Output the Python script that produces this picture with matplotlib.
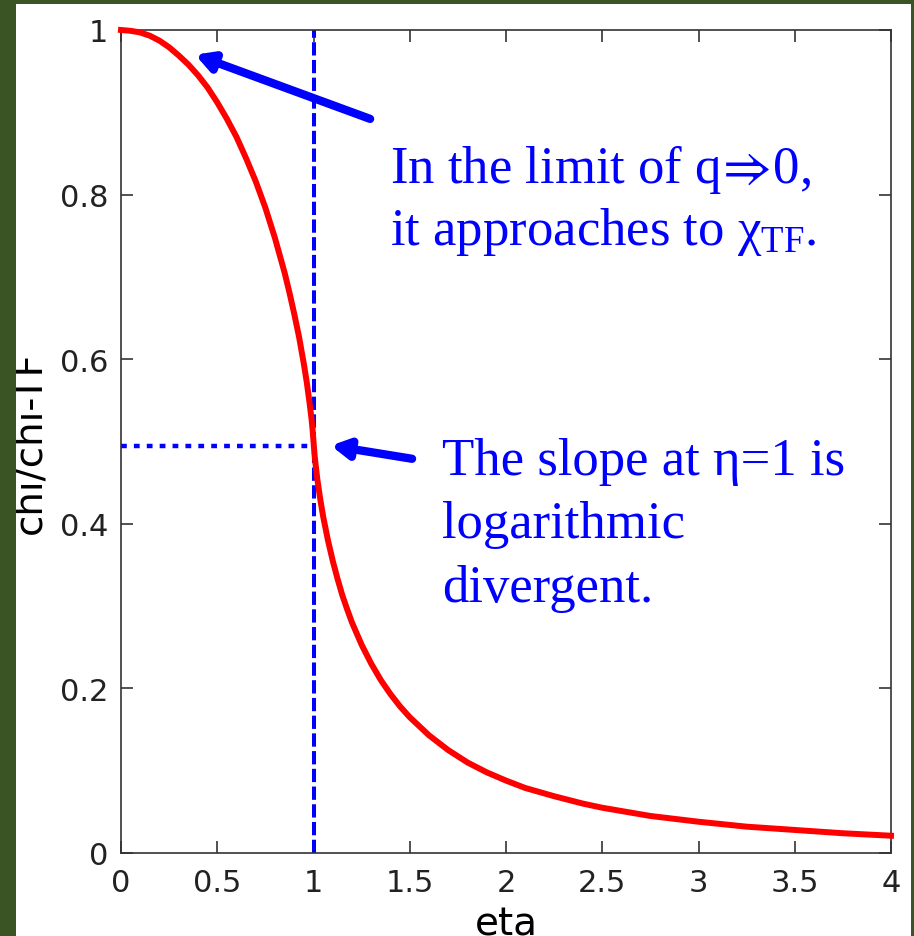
import matplotlib
matplotlib.use("Agg")
import matplotlib.pyplot as plt
from matplotlib.patches import Rectangle

# values
eta = [0.0, 0.05, 0.1, 0.15, 0.2, 0.25, 0.3, 0.35, 0.4, 0.45,
       0.5, 0.55, 0.6, 0.65, 0.7, 0.75, 0.8, 0.85, 0.875, 0.9,
       0.925, 0.95, 0.965, 0.98, 0.99, 0.995, 1.0, 1.005, 1.01, 1.02,
       1.035, 1.05, 1.075, 1.1, 1.125, 1.15, 1.175, 1.2, 1.25, 1.3,
       1.35, 1.4, 1.45, 1.5, 1.6, 1.7, 1.8, 1.9, 2.0, 2.1,
       2.25, 2.4, 2.5, 2.6, 2.75, 3.0, 3.25, 3.5, 3.75, 4.0]
chi = [1.000, 0.999, 0.997, 0.993, 0.987, 0.979, 0.969, 0.958, 0.945, 0.930,
       0.912, 0.892, 0.870, 0.844, 0.816, 0.784, 0.747, 0.705, 0.681, 0.655,
       0.627, 0.594, 0.572, 0.546, 0.527, 0.515, 0.500, 0.485, 0.474, 0.454,
       0.430, 0.409, 0.380, 0.355, 0.333, 0.313, 0.296, 0.280, 0.253, 0.230,
       0.210, 0.193, 0.178, 0.165, 0.143, 0.125, 0.110, 0.098, 0.088, 0.079,
       0.069, 0.060, 0.055, 0.051, 0.045, 0.038, 0.032, 0.028, 0.024, 0.021]

x_ticks = [0, 0.5, 1, 1.5, 2, 2.5, 3, 3.5, 4]
x_ticklabels = ["0", "0.5", "1", "1.5", "2", "2.5", "3", "3.5", "4"]
y_ticks = [0, 0.2, 0.4, 0.6, 0.8, 1]
y_ticklabels = ["0", "0.2", "0.4", "0.6", "0.8", "1"]

eta_mark = 1.0
chi_mark = 0.495

note1 = ["In the limit of q$\\!\\Rightarrow\\!$0,", "it approaches to $\\chi_{\\mathrm{TF}}$."]
note2 = ["The slope at \u03b7=1 is", "logarithmic", "divergent."]

plt.rcParams['mathtext.fontset'] = 'custom'
plt.rcParams['mathtext.rm'] = 'Liberation Serif'
plt.rcParams['mathtext.it'] = 'Liberation Serif'
plt.rcParams['mathtext.fallback'] = 'stix'

W, H = 914, 937
green = '#3a5424'
fig = plt.figure(figsize=(W / 100, H / 100), dpi=100)
fig.patch.set_facecolor(green)
# white slide panel
fig.add_artist(Rectangle((16 / W, 0), (911 - 16) / W, (H - 5) / H,
                         transform=fig.transFigure, facecolor='white',
                         edgecolor='none', zorder=-10))

ax = fig.add_axes([121 / W, (H - 854) / H, 770 / W, 823 / H])
ax.set_xlim(0, 4)
ax.set_ylim(0, 1)

ax.plot(eta, chi, color='red', lw=4.3, solid_joinstyle='round', zorder=3, clip_on=False)
ax.axvline(eta_mark, color='blue', lw=2.9, linestyle=(0, (3.3, 1.1)), zorder=2)
ax.plot([0, eta_mark], [chi_mark, chi_mark], color='blue', lw=3.2,
        linestyle=(0, (1.3, 1.6)), zorder=2)

ax.set_xticks(x_ticks)
ax.set_xticklabels(x_ticklabels)
ax.set_yticks(y_ticks)
ax.set_yticklabels(y_ticklabels)
ax.tick_params(direction='in', length=8.6, width=1.1, top=True, right=True,
               labelsize=22, colors='#222222')
ax.tick_params(axis='x', pad=11)
ax.tick_params(axis='y', pad=9)
for s in ax.spines.values():
    s.set_linewidth(1.2)
    s.set_color('#333333')

ax.set_xlabel('eta', fontsize=28, labelpad=5)
ax.set_ylabel('chi/chi-TF', fontsize=28, labelpad=8.5)

# arrows
arrow = dict(arrowstyle='-|>,head_length=1.0,head_width=0.55', lw=6,
             color='blue', shrinkA=0, shrinkB=0)
ax.annotate('', xy=(0.385, 0.970), xytext=(1.294, 0.892), arrowprops=arrow)
ax.annotate('', xy=(1.09, 0.495), xytext=(1.512, 0.479), arrowprops=arrow)

# notes (positions in pixels -> data)
def px(x, y):
    return (x - 121) / 192.5, (854 - y) / 823

serif = ['Liberation Serif', 'DejaVu Serif']
for line, yb in zip(note1, [183, 245]):
    ax.text(*px(390, yb), line, color='blue', fontsize=38, family=serif,
            va='baseline', ha='left')
for line, yb in zip(note2, [475, 538, 602]):
    ax.text(*px(442, yb), line, color='blue', fontsize=38, family=serif,
            va='baseline', ha='left')

# left green strip covers part of the y label
fig.add_artist(Rectangle((0, 0), 16 / W, 1, transform=fig.transFigure,
                         facecolor=green, edgecolor='none', zorder=10))

fig.savefig('out.png', dpi=100, facecolor=fig.get_facecolor())
